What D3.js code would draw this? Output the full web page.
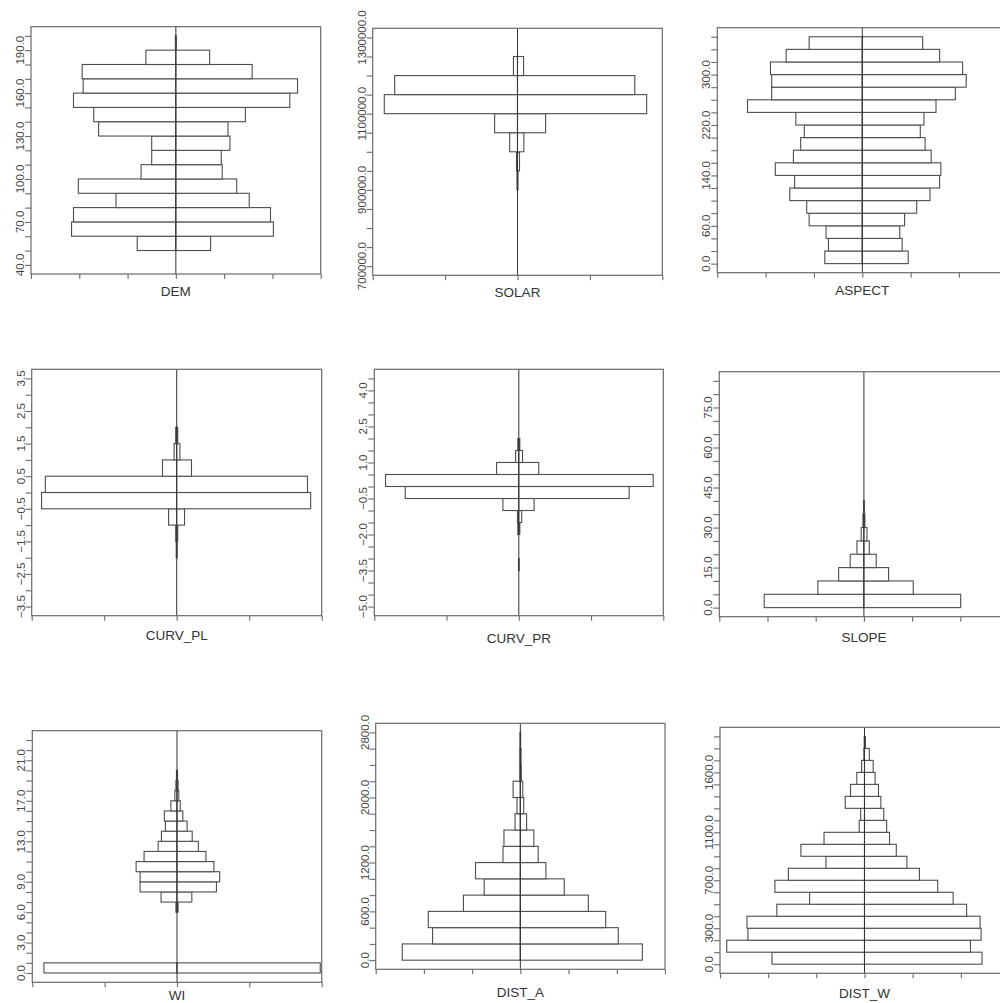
<!DOCTYPE html>
<html>
<head>
<meta charset="utf-8">
<script src="https://cdn.jsdelivr.net/npm/d3@7"></script>
<style>
  html, body { margin: 0; padding: 0; background: #fff; }
  svg { display: block; font-family: "Liberation Sans", Arial, sans-serif; }
</style>
</head>
<body>
<svg id="chart" width="1000" height="1003"></svg>
<script>
// Back-to-back frequency histograms (% per bin) for nine terrain variables.
// Each variable: lower bin edges, left-hand distribution, right-hand distribution.

const demBins  = [50, 60, 70, 80, 90, 100, 110, 120, 130, 140, 150, 160, 170, 180, 190];
const demLeft  = [4.0, 10.8, 10.6, 6.2, 10.1, 3.6, 2.5, 2.5, 8.0, 8.5, 10.6, 9.6, 9.7, 3.1, 0.05];
const demRight = [3.6, 10.1, 9.8, 7.6, 6.3, 4.8, 4.7, 5.6, 5.4, 7.2, 11.8, 12.6, 7.9, 3.5, 0.05];

const solarBins  = [900000, 950000, 1000000, 1050000, 1100000, 1150000, 1200000];
const solarLeft  = [0.17, 0.35, 2.7, 7.9, 46.0, 42.4, 1.4];
const solarRight = [0.17, 0.7, 2.2, 9.7, 44.6, 40.5, 2.1];

const aspectBins  = [0, 20, 40, 60, 80, 100, 120, 140, 160, 180, 200, 220, 240, 260, 280, 300, 320, 340];
const aspectLeft  = [3.1, 2.8, 3.0, 4.4, 4.6, 6.0, 5.6, 7.2, 5.7, 5.1, 4.8, 5.5, 9.5, 7.5, 7.5, 7.6, 6.3, 4.4];
const aspectRight = [3.8, 3.3, 3.1, 3.5, 4.5, 5.6, 6.4, 6.5, 5.7, 5.2, 4.8, 5.1, 6.1, 7.7, 8.6, 8.3, 6.4, 5.0];

const curvPlBins  = [-2.0, -1.5, -1.0, -0.5, 0.0, 0.5, 1.0, 1.5];
const curvPlLeft  = [0.17, 0.35, 2.8, 46.6, 45.3, 4.9, 0.9, 0.35];
const curvPlRight = [0.17, 0.35, 2.7, 46.2, 45.1, 5.1, 1.1, 0.35];

const curvPrBins  = [-3.5, -2.0, -1.5, -1.0, -0.5, 0.0, 0.5, 1.0, 1.5];
const curvPrLeft  = [0.1, 0.35, 0.45, 5.5, 39.3, 46.1, 7.7, 1.1, 0.35];
const curvPrRight = [0.1, 0.35, 1.0, 5.3, 38.2, 46.5, 6.9, 1.3, 0.35];

const slopeBins  = [0, 5, 10, 15, 20, 25, 30, 35];
const slopeLeft  = [51.7, 23.9, 13.1, 7.1, 3.6, 1.4, 0.5, 0.2];
const slopeRight = [50.2, 25.6, 12.8, 6.4, 2.8, 1.6, 0.5, 0.2];

const wiBins  = [0, 6, 7, 8, 9, 10, 11, 12, 13, 14, 15, 16, 17, 18, 19];
const wiLeft  = [36.8, 0.3, 4.4, 10.2, 10.2, 11.3, 9.1, 5.2, 4.3, 3.2, 3.5, 1.7, 0.6, 0.3, 0.15];
const wiRight = [39.6, 0.3, 4.1, 10.9, 11.8, 10.2, 8.0, 5.9, 4.2, 2.8, 1.6, 0.9, 0.5, 0.3, 0.15];

const distABins  = [0, 200, 400, 600, 800, 1000, 1200, 1400, 1600, 1800, 2000, 2200, 2400, 2600];
const distALeft  = [24.5, 18.2, 19.1, 11.8, 7.5, 9.3, 3.6, 3.4, 1.1, 0.7, 1.5, 0.1, 0.1, 0.06];
const distARight = [25.3, 20.3, 17.7, 14.1, 9.1, 5.3, 3.7, 2.8, 1.3, 0.7, 0.5, 0.2, 0.15, 0.06];

const distWBins  = [0, 100, 200, 300, 400, 500, 600, 700, 800, 900, 1000, 1100, 1200, 1300, 1400, 1500, 1600, 1700, 1800];
const distWLeft  = [9.6, 14.3, 12.1, 12.2, 9.1, 5.7, 9.3, 7.9, 4.0, 6.6, 4.2, 0.55, 0.4, 2.0, 1.45, 0.8, 0.3, 0.07, 0.03];
const distWRight = [12.2, 11.0, 12.1, 12.0, 10.6, 9.2, 7.6, 5.7, 4.4, 3.3, 2.6, 2.3, 2.0, 1.7, 1.45, 1.1, 0.9, 0.5, 0.1];

// Variable names shown under each panel
const variableNames = ["DEM", "SOLAR", "ASPECT", "CURV_PL", "CURV_PR", "SLOPE", "WI", "DIST_A", "DIST_W"];

// Vertical axis ticks: [first, last, step]; labelled values
const demTicks = [40, 200, 10];          const demLabels = [40, 70, 100, 130, 160, 190];
const solarTicks = [700000, 1300000, 50000]; const solarLabels = [700000, 900000, 1100000, 1300000];
const aspectTicks = [0, 360, 20];        const aspectLabels = [0, 60, 140, 220, 300];
const curvPlTicks = [-3.5, 3.5, 0.5];    const curvPlLabels = [-3.5, -2.5, -1.5, -0.5, 0.5, 1.5, 2.5, 3.5];
const curvPrTicks = [-5.0, 4.5, 0.5];    const curvPrLabels = [-5.0, -3.5, -2.0, -0.5, 1.0, 2.5, 4.0];
const slopeTicks = [0, 85, 5];           const slopeLabels = [0, 15, 30, 45, 60, 75];
const wiTicks = [0, 23, 1];              const wiLabels = [0, 3, 6, 9, 13, 17, 21];
const distATicks = [0, 2800, 200];       const distALabels = [0, 600, 1200, 2000, 2800];
const distWTicks = [0, 1900, 100];       const distWLabels = [0, 300, 700, 1100, 1600];

// Horizontal (frequency %) axis: tick step and number of ticks on each side
const freqStep = [5, 25, 4, 25, 25, 25, 20, 10, 5];
const freqHalf = [3, 2, 3, 2, 2, 3, 2, 3, 3];

// Bin widths along the variable axis
const binWidth = [10, 50000, 20, 0.5, 0.5, 5, 1, 200, 100];

const series = [
  [demBins, demLeft, demRight, demTicks, demLabels],
  [solarBins, solarLeft, solarRight, solarTicks, solarLabels],
  [aspectBins, aspectLeft, aspectRight, aspectTicks, aspectLabels],
  [curvPlBins, curvPlLeft, curvPlRight, curvPlTicks, curvPlLabels],
  [curvPrBins, curvPrLeft, curvPrRight, curvPrTicks, curvPrLabels],
  [slopeBins, slopeLeft, slopeRight, slopeTicks, slopeLabels],
  [wiBins, wiLeft, wiRight, wiTicks, wiLabels],
  [distABins, distALeft, distARight, distATicks, distALabels],
  [distWBins, distWLeft, distWRight, distWTicks, distWLabels]
];

// Panel frames [left, top, right, bottom] and title baseline
const frames = [
  [31.0, 26.7, 320.7, 274.0, 295.5],
  [372.7, 28.3, 662.3, 275.3, 296.5],
  [717.3, 27.7, 1007.3, 272.7, 295.0],
  [31.7, 369.3, 321.7, 615.7, 640.0],
  [374.3, 369.3, 663.3, 615.7, 643.0],
  [719.3, 371.7, 1008.5, 616.7, 641.5],
  [32.3, 730.7, 321.7, 982.3, 1000.0],
  [375.7, 723.3, 665.0, 969.3, 996.5],
  [720.0, 727.3, 1009.0, 973.3, 998.0]
];

const svg = d3.select("#chart");
svg.append("rect").attr("width", 1000).attr("height", 1003).attr("fill", "#fff");

const fmt = d3.format(".1f");
const barColor = "#4d4d4d";
const frameColor = "#6a6a6a";

series.forEach((s, i) => {
  const [bins, left, right, ticks, labels] = s;
  const [fx0, fy0, fx1, fy1, titleY] = frames[i];
  const g = svg.append("g");

  const half = freqStep[i] * freqHalf[i];
  const x = d3.scaleLinear().domain([-half, half]).range([fx0, fx1]);
  const pad = (ticks[1] - ticks[0]) * 0.04;
  const y = d3.scaleLinear().domain([ticks[0] - pad, ticks[1] + pad]).range([fy1, fy0]);
  const bw = binWidth[i];

  const rows = bins.map((b, k) => ({ lo: b, l: left[k], r: right[k] }));

  // left-hand bars
  g.selectAll("rect.left").data(rows).join("rect")
    .attr("class", "left")
    .attr("x", d => x(-d.l))
    .attr("width", d => x(0) - x(-d.l))
    .attr("y", d => y(d.lo + bw))
    .attr("height", d => y(d.lo) - y(d.lo + bw))
    .attr("fill", "#fff")
    .attr("stroke", barColor)
    .attr("stroke-width", 1.1);

  // right-hand bars
  g.selectAll("rect.right").data(rows).join("rect")
    .attr("class", "right")
    .attr("x", x(0))
    .attr("width", d => x(d.r) - x(0))
    .attr("y", d => y(d.lo + bw))
    .attr("height", d => y(d.lo) - y(d.lo + bw))
    .attr("fill", "#fff")
    .attr("stroke", barColor)
    .attr("stroke-width", 1.1);

  // centre line
  g.append("line")
    .attr("x1", x(0)).attr("x2", x(0))
    .attr("y1", fy0).attr("y2", fy1)
    .attr("stroke", "#333").attr("stroke-width", 1);

  // frame
  g.append("rect")
    .attr("x", fx0).attr("y", fy0)
    .attr("width", fx1 - fx0).attr("height", fy1 - fy0)
    .attr("fill", "none")
    .attr("stroke", frameColor)
    .attr("stroke-width", 1.2);

  // vertical axis ticks
  const nT = Math.round((ticks[1] - ticks[0]) / ticks[2]);
  const tickVals = d3.range(nT + 1).map(k => ticks[0] + k * ticks[2]);
  const yAxis = g.append("g")
    .attr("transform", `translate(${fx0},0)`)
    .call(d3.axisLeft(y).tickValues(tickVals).tickSize(6).tickSizeOuter(0).tickFormat(""));
  yAxis.select(".domain").remove();
  yAxis.selectAll(".tick line").attr("stroke", frameColor).attr("stroke-width", 1.1);

  // rotated labels
  g.selectAll("text.ylab").data(labels).join("text")
    .attr("class", "ylab")
    .attr("transform", d => `translate(${fx0 - 7},${y(d)}) rotate(-90)`)
    .attr("text-anchor", "middle")
    .attr("font-size", 11.5)
    .attr("fill", "#444")
    .text(d => fmt(d));

  // horizontal axis ticks
  const xVals = d3.range(-freqHalf[i], freqHalf[i] + 1).map(k => k * freqStep[i]);
  const xAxis = g.append("g")
    .attr("transform", `translate(0,${fy1})`)
    .call(d3.axisBottom(x).tickValues(xVals).tickSize(5).tickSizeOuter(0).tickFormat(""));
  xAxis.select(".domain").remove();
  xAxis.selectAll(".tick line").attr("stroke", frameColor).attr("stroke-width", 1.1);

  // variable name
  g.append("text")
    .attr("x", x(0)).attr("y", titleY)
    .attr("text-anchor", "middle")
    .attr("font-size", 13.5)
    .attr("fill", "#333")
    .text(variableNames[i]);
});
</script>
</body>
</html>
